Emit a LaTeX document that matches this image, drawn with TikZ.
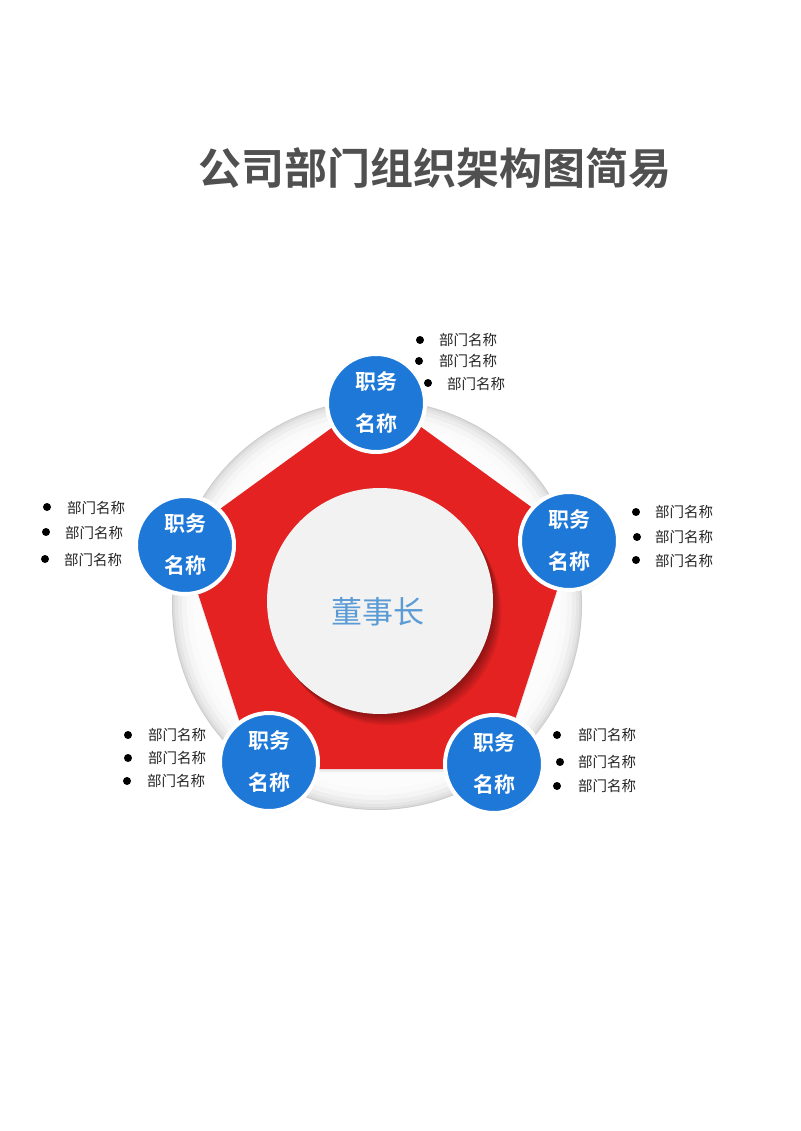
\documentclass[tikz,border=0pt]{standalone}
\usepackage{fontspec}
\setmainfont{Noto Sans CJK SC}[BoldFont={Noto Sans CJK SC Bold}]
\usepackage{xcolor}
\usetikzlibrary{shadows}
\definecolor{jobblue}{RGB}{30,120,216}
\definecolor{penred}{RGB}{228,34,34}
\definecolor{titlegray}{RGB}{80,80,80}
\definecolor{chairblue}{RGB}{91,155,213}

\begin{document}
\begin{tikzpicture}[x=1pt,y=-1pt,
  job/.style={circle,fill=jobblue,draw=white,line width=4pt,minimum size=98pt,inner sep=0pt,
    text=white,align=center,font=\bfseries\fontsize{21}{42}\selectfont,
    drop shadow={opacity=0.2,shadow xshift=1pt,shadow yshift=-2pt}},
  chair/.style={circle,fill=black!5,minimum size=226pt,inner sep=0pt},
  dept/.style={anchor=west,inner sep=0pt,text=black!85,font=\fontsize{14.5}{16}\selectfont},
  dot/.style={circle,fill=black,inner sep=0pt,minimum size=8pt}]
\useasboundingbox[fill=white] (0,0) rectangle (800,1131);

\node[text=titlegray,font=\bfseries\fontsize{43}{50}\selectfont] (title) at (435,168) {公司部门组织架构图简易};

% grey disc and red pentagon
\foreach \r/\g in {205/20,204/14,202/10,199/7,195/4,190/2,184/1}
  \fill[black!\g!white] (377,605) circle[radius=\r pt];
\coordinate (pt) at (377,395);
\coordinate (pr) at (574,538);
\coordinate (pbr) at (499,769);
\coordinate (pbl) at (255,769);
\coordinate (pl) at (180,538);
\fill[black,opacity=0.06] (pt) ++(0,3) -- (574,541) -- (499,772) -- (255,772) -- (180,541) -- cycle;
\fill[penred] (pt) -- (pr) -- (pbr) -- (pbl) -- (pl) -- cycle;

% soft shadow under the centre disc
\foreach \s in {2,4,...,14}
  \fill[black,opacity=0.06] (380+\s*0.6,601+\s*0.8) circle[radius=113pt];
\node[chair] (c) at (380,601) {};
\node[text=chairblue,font=\fontsize{31}{36}\selectfont] (ctext) at (378,612) {董事长};

\node[job] (t) at (376,403) {职务\\名称};
\node[job] (r) at (569,541) {职务\\名称};
\node[job] (br) at (494,764) {职务\\名称};
\node[job] (bl) at (269,762) {职务\\名称};
\node[job] (l) at (185,545) {职务\\名称};

% top list
\node[dot] (td1) at (420,340) {};
\node[dot] (td2) at (419,361) {};
\node[dot] (td3) at (428,383) {};
\node[dept] (tn1) at (439,340) {部门名称};
\node[dept] (tn2) at (439,361) {部门名称};
\node[dept] (tn3) at (447,384) {部门名称};

% right list
\node[dot] (rd1) at (636,512) {};
\node[dot] (rd2) at (637,537) {};
\node[dot] (rd3) at (636,560) {};
\node[dept] (rn1) at (655,512) {部门名称};
\node[dept] (rn2) at (655,537) {部门名称};
\node[dept] (rn3) at (655,561) {部门名称};

% left list
\node[dot] (ld1) at (47,507) {};
\node[dot] (ld2) at (46,532) {};
\node[dot] (ld3) at (45,559) {};
\node[dept] (ln1) at (67,508) {部门名称};
\node[dept] (ln2) at (65,533) {部门名称};
\node[dept] (ln3) at (64,560) {部门名称};

% lower left list
\node[dot] (bld1) at (128,735) {};
\node[dot] (bld2) at (128,758) {};
\node[dot] (bld3) at (127,781) {};
\node[dept] (bln1) at (148,735) {部门名称};
\node[dept] (bln2) at (148,758) {部门名称};
\node[dept] (bln3) at (147,781) {部门名称};

% lower right list
\node[dot] (brd1) at (557,735) {};
\node[dot] (brd2) at (560,762) {};
\node[dot] (brd3) at (557,786) {};
\node[dept] (brn1) at (578,735) {部门名称};
\node[dept] (brn2) at (578,762) {部门名称};
\node[dept] (brn3) at (578,786) {部门名称};
\end{tikzpicture}
\end{document}
